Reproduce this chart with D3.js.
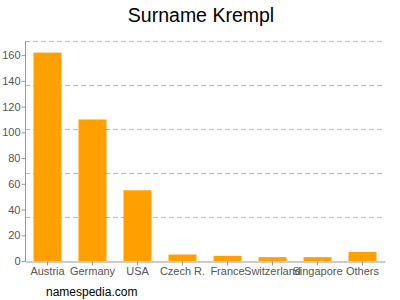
<!DOCTYPE html>
<html>
<head>
<meta charset="utf-8">
<script src="https://cdn.jsdelivr.net/npm/d3@7"></script>
<style>
  html, body { margin: 0; padding: 0; background: #fff; }
  svg { display: block; font-family: "Liberation Sans", Arial, sans-serif; }
</style>
</head>
<body>
<svg id="chart" width="400" height="300"></svg>
<script>
(function () {
  'use strict';

  var countries = ['Austria', 'Germany', 'USA', 'Czech R.', 'France', 'Switzerland', 'Singapore', 'Others'];
  var counts = [162, 110, 55, 5, 4, 3, 3, 7];
  var yTicks = [0, 20, 40, 60, 80, 100, 120, 140, 160];
  var yMax = 171;

  var svg = d3.select('#chart');
  var left = 25, right = 385, top = 41, bottom = 261;

  var x = d3.scaleBand()
    .domain(countries)
    .range([left, right])
    .paddingInner(17 / 45)
    .paddingOuter(8.5 / 45);

  var y = d3.scaleLinear().domain([0, yMax]).range([bottom, top]);

  // dashed grid lines, plot height split in 5
  var gridVals = d3.range(1, 6).map(function (i) { return yMax * i / 5; });
  svg.append('g')
    .selectAll('line')
    .data(gridVals)
    .enter()
    .append('line')
    .attr('x1', left)
    .attr('x2', right)
    .attr('y1', function (d) { return Math.round(y(d)) + 0.5; })
    .attr('y2', function (d) { return Math.round(y(d)) + 0.5; })
    .attr('stroke', '#bbb')
    .attr('stroke-dasharray', '5,3');

  svg.append('g')
    .selectAll('rect')
    .data(counts)
    .enter()
    .append('rect')
    .attr('x', function (d, i) { return x(countries[i]); })
    .attr('width', x.bandwidth())
    .attr('y', function (d) { return y(d); })
    .attr('height', function (d) { return bottom - y(d); })
    .attr('fill', '#ffa000');

  var yAxis = svg.append('g')
    .attr('transform', 'translate(' + (left + 0.5) + ',0)')
    .call(d3.axisLeft(y).tickValues(yTicks).tickSize(4).tickSizeOuter(0));
  yAxis.select('.domain').attr('stroke', '#999').attr('d', 'M0,' + top + 'V' + bottom);
  yAxis.selectAll('.tick line').attr('stroke', '#999');
  yAxis.selectAll('.tick text')
    .attr('fill', '#555')
    .attr('font-size', '11px')
    .attr('font-family', '"Liberation Sans", Arial, sans-serif')
    .attr('x', -5);

  var xAxis = svg.append('g')
    .attr('transform', 'translate(0,' + (bottom + 0.5) + ')')
    .call(d3.axisBottom(x).tickSize(4).tickSizeOuter(0));
  xAxis.select('.domain').attr('stroke', '#999');
  xAxis.selectAll('.tick line').attr('stroke', '#999');
  xAxis.selectAll('.tick text')
    .attr('fill', '#555')
    .attr('font-size', '11px')
    .attr('font-family', '"Liberation Sans", Arial, sans-serif')
    .attr('y', 6);

  svg.append('text')
    .attr('x', 201)
    .attr('y', 22)
    .attr('text-anchor', 'middle')
    .attr('font-size', '19.5px')
    .attr('fill', '#000')
    .text('Surname Krempl');

  svg.append('text')
    .attr('x', 46)
    .attr('y', 296)
    .attr('font-size', '12px')
    .attr('fill', '#000')
    .text('namespedia.com');
})();
</script>
</body>
</html>
